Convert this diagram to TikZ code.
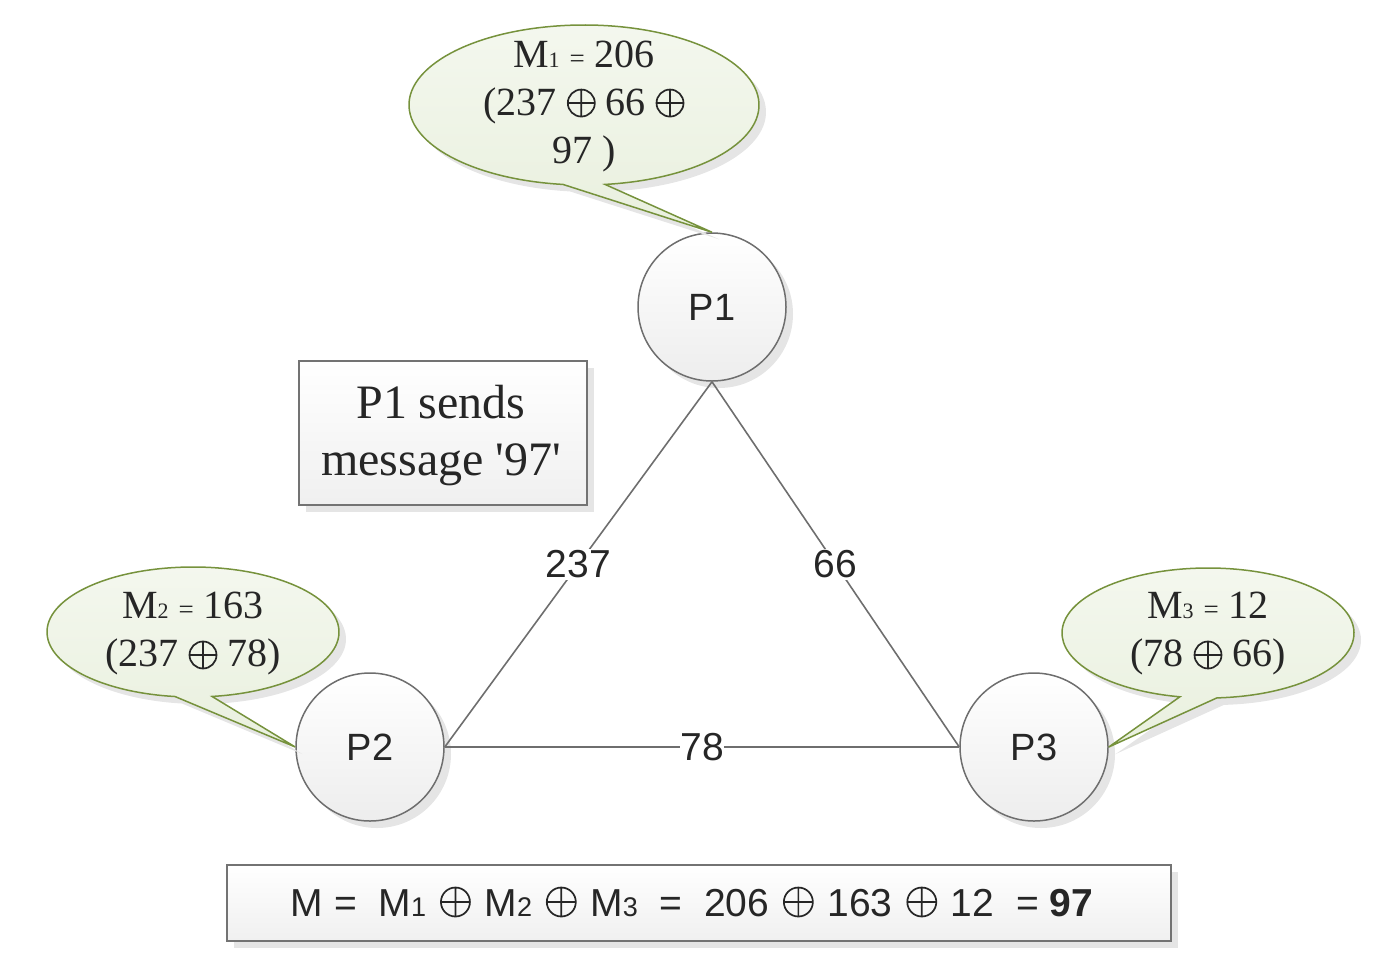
\documentclass[tikz,border=0pt]{standalone}
\usepackage{fontspec}
\setsansfont{Liberation Sans}
\newfontfamily\callfont{Liberation Serif}
\usetikzlibrary{shadows}
\definecolor{calloutgreen}{HTML}{76923C}
\definecolor{calloutfill}{HTML}{E9F0DE}
\definecolor{edgegray}{HTML}{6E6E6E}
\definecolor{inkgray}{HTML}{262626}
\newcommand{\smallsub}[1]{{\fontsize{22}{22}\selectfont #1}}
\newcommand{\midsub}[1]{{\fontsize{27}{27}\selectfont #1}}
\newcommand{\smalleq}{{\fontsize{27}{27}\selectfont =}}
% #1 diameter, #2 height of centre above baseline
\newcommand{\xorsym}[2]{\tikz[baseline=0pt, x=1pt, y=1pt]{\draw[inkgray, line width=1.7pt] (0,#2) circle[radius=#1/2] (-#1/2,#2) -- (#1/2,#2) (0,#2-#1/2) -- (0,#2+#1/2);}}
\newcommand{\bigxor}{\hspace{3pt}\xorsym{29}{14}\hspace{3pt}}
\begin{document}
\begin{tikzpicture}[x=1pt,y=1pt,
  shad/.style={drop shadow={shadow xshift=7pt, shadow yshift=-7pt, fill=black!10, opacity=1}},
  proc/.style={circle, draw=edgegray, line width=1.5pt, minimum size=148pt, inner sep=0pt,
    top color=white, bottom color=black!7, shad, text=inkgray,
    font=\sffamily\fontsize{38}{38}\selectfont},
  link/.style={draw=edgegray, line width=1.6pt},
  elabel/.style={fill=white, inner sep=2pt, text=inkgray, font=\sffamily\fontsize{39}{39}\selectfont},
  callout/.style={draw=calloutgreen, line width=1.5pt, top color=calloutfill!50!white, bottom color=calloutfill, shad},
  ctext/.style={font=\callfont\fontsize{40}{48}\selectfont, align=center, inner sep=0pt, text=inkgray},
  boxstyle/.style={draw=black!55, line width=1.5pt, top color=white, bottom color=black!6, shad, inner sep=0pt}
]
\useasboundingbox (0,0) rectangle (1386,-978);

% processes
\node[proc] (P1) at (712,-307) {P1};
\node[proc] (P2) at (370,-747) {P2};
\node[proc] (P3) at (1034,-747) {P3};

% callouts
\path[callout] (584,-105) ++(-83.1:175 and 80)
  arc[start angle=-83.1, end angle=263.1, x radius=175, y radius=80]
  -- (P1.north) -- cycle;
\path[callout] (193,-632) ++(-82.5:146 and 65)
  arc[start angle=-82.5, end angle=262.9, x radius=146, y radius=65]
  -- (P2.west) -- cycle;
\path[callout] (1208,-633) ++(-86.5:146 and 65)
  arc[start angle=-86.5, end angle=258.9, x radius=146, y radius=65]
  -- (P3.east) -- cycle;

\node[ctext] (c1) at (584,-106) {M\smallsub{1} \smalleq{} 206\\(237 \xorsym{27}{12} 66 \xorsym{27}{12}\\97 )};
\node[ctext] (c2) at (193,-634) {M\smallsub{2} \smalleq{} 163\\(237 \xorsym{27}{12} 78)};
\node[ctext] (c3) at (1208,-634) {M\smallsub{3} \smalleq{} 12\\(78 \xorsym{27}{12} 66)};

% edges
\draw[link] (P1.south) -- node[elabel] (l237) {237} (P2.east);
\draw[link] (P1.south) -- node[elabel] (l66) {66} (P3.west);
\draw[link] (P2.east) -- node[elabel, inner sep=0pt] (l78) {78} (P3.west);

% message box
\node[boxstyle, minimum width=288pt, minimum height=144pt] (msg) at (443,-433) {};
\node[align=center, inner sep=0pt, text=inkgray, font=\callfont\fontsize{48}{57}\selectfont] (msgtext) at (441,-436) {P1 sends\\message '97'};

% result box
\node[boxstyle, minimum width=944pt, minimum height=76pt] (res) at (699,-903) {};
\node[font=\sffamily\fontsize{39}{39}\selectfont, inner sep=0pt, text=inkgray] (restext) at (692,-902)
  {M =\ \ M\midsub{1} \bigxor{} M\midsub{2} \bigxor{} M\midsub{3}\ \ =\ \ 206 \bigxor{} 163 \bigxor{} 12\ \ = \textbf{97}};
\end{tikzpicture}
\end{document}
